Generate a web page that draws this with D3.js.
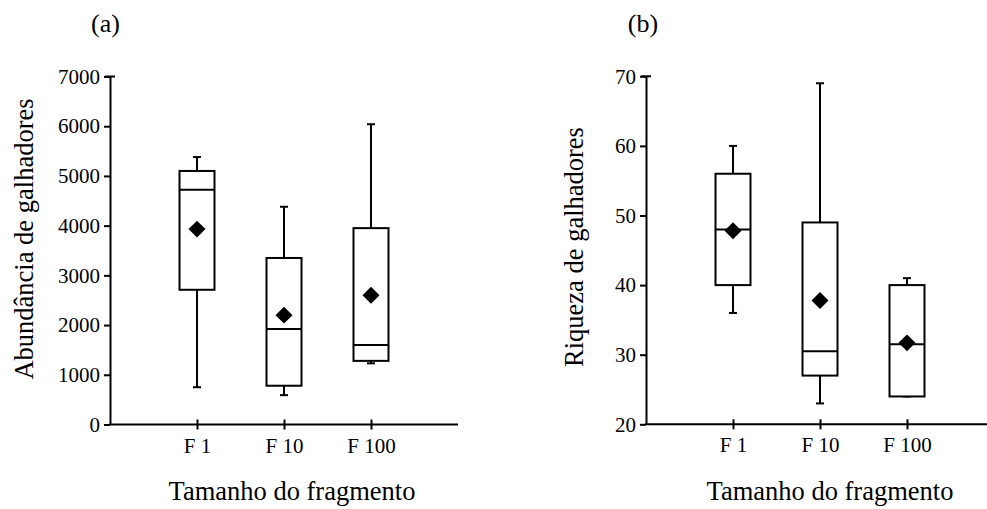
<!DOCTYPE html>
<html>
<head>
<meta charset="utf-8">
<script src="https://cdn.jsdelivr.net/npm/d3@7"></script>
<style>
  html, body { margin: 0; padding: 0; background: #fff; }
  svg { display: block; }
  text { font-family: "Liberation Serif", "Times New Roman", serif; fill: #000; }
</style>
</head>
<body>
<svg id="chart" width="987" height="509"></svg>
<script>
// ---- data ----
const categories = ["F 1", "F 10", "F 100"];

// (a) Abundância de galhadores
const abundWhiskerLow  = [750, 590, 1230];
const abundQ1          = [2710, 780, 1280];
const abundMedian      = [4720, 1920, 1600];
const abundQ3          = [5100, 3350, 3950];
const abundWhiskerHigh = [5380, 4380, 6040];
const abundMean        = [3930, 2200, 2600];
const abundTicks       = [0, 1000, 2000, 3000, 4000, 5000, 6000, 7000];

// (b) Riqueza de galhadores
const richWhiskerLow  = [36, 23, 24];
const richQ1          = [40, 27, 24];
const richMedian      = [48, 30.5, 31.5];
const richQ3          = [56, 49, 40];
const richWhiskerHigh = [60, 69, 41];
const richMean        = [47.8, 37.8, 31.7];
const richTicks       = [20, 30, 40, 50, 60, 70];

const xTitle = "Tamanho do fragmento";
const FONT = '"Liberation Serif", "Times New Roman", serif';

const svg = d3.select("#chart");

function panel(opts) {
  const g = svg.append("g");
  const x = d3.scalePoint().domain(categories).range([opts.x0, opts.x0 + 348]).padding(1);
  const y = d3.scaleLinear().domain(opts.domain).range([opts.yBottom, opts.yTop]);

  // y axis
  const ya = g.append("g").attr("transform", `translate(${opts.x0},0)`)
    .call(d3.axisLeft(y).tickValues(opts.ticks).tickFormat(d3.format("d"))
      .tickSize(6).tickSizeOuter(0).tickPadding(4))
    .attr("font-family", FONT).attr("font-size", 21);
  ya.select(".domain").attr("stroke", "#000").attr("stroke-width", 2);
  ya.selectAll(".tick line").attr("stroke", "#000").attr("stroke-width", 2);
  ya.selectAll(".tick text").attr("font-size", 21).attr("font-family", FONT);
  // top cap crossing the axis
  g.append("line")
    .attr("x1", opts.x0 - 5).attr("x2", opts.x0 + 5)
    .attr("y1", y(opts.domain[1])).attr("y2", y(opts.domain[1]))
    .attr("stroke", "#000").attr("stroke-width", 2);

  // x axis
  const xa = g.append("g").attr("transform", `translate(0,${opts.yBottom})`)
    .call(d3.axisBottom(x).tickSizeOuter(0))
    .attr("font-family", FONT).attr("font-size", 21);
  xa.select(".domain").attr("stroke", "#000").attr("stroke-width", 2)
    .attr("d", `M${opts.x0 - 1},0H${opts.xEnd}`);
  xa.selectAll(".tick line").attr("stroke", "#000").attr("stroke-width", 2)
    .attr("y1", -5).attr("y2", 5);
  xa.selectAll(".tick text").attr("font-size", 21).attr("font-family", FONT)
    .attr("y", 28).attr("dy", 0);

  const half = 17.5, cap = 4;
  const idx = d3.range(categories.length);
  const boxes = g.append("g").selectAll("g").data(idx).join("g");

  // whiskers
  boxes.append("line")
    .attr("x1", i => x(categories[i])).attr("x2", i => x(categories[i]))
    .attr("y1", i => y(opts.q3[i])).attr("y2", i => y(opts.hi[i]))
    .attr("stroke", "#000").attr("stroke-width", 2);
  boxes.append("line")
    .attr("x1", i => x(categories[i])).attr("x2", i => x(categories[i]))
    .attr("y1", i => y(opts.q1[i])).attr("y2", i => y(opts.lo[i]))
    .attr("stroke", "#000").attr("stroke-width", 2);
  boxes.append("line")
    .attr("x1", i => x(categories[i]) - cap).attr("x2", i => x(categories[i]) + cap)
    .attr("y1", i => y(opts.hi[i])).attr("y2", i => y(opts.hi[i]))
    .attr("stroke", "#000").attr("stroke-width", 2);
  boxes.append("line")
    .attr("x1", i => x(categories[i]) - cap).attr("x2", i => x(categories[i]) + cap)
    .attr("y1", i => y(opts.lo[i])).attr("y2", i => y(opts.lo[i]))
    .attr("stroke", "#000").attr("stroke-width", 2);
  // box
  boxes.append("rect")
    .attr("x", i => x(categories[i]) - half).attr("width", half * 2)
    .attr("y", i => y(opts.q3[i])).attr("height", i => y(opts.q1[i]) - y(opts.q3[i]))
    .attr("fill", "#fff").attr("stroke", "#000").attr("stroke-width", 2);
  // median
  boxes.append("line")
    .attr("x1", i => x(categories[i]) - half).attr("x2", i => x(categories[i]) + half)
    .attr("y1", i => y(opts.med[i])).attr("y2", i => y(opts.med[i]))
    .attr("stroke", "#000").attr("stroke-width", 2);
  // mean diamond
  boxes.append("path")
    .attr("d", d3.symbol(d3.symbolSquare, 144)())
    .attr("transform", i => `translate(${x(categories[i])},${y(opts.mean[i])}) rotate(45)`)
    .attr("fill", "#000");

  // titles
  g.append("text").attr("x", opts.labelX).attr("y", 32).attr("text-anchor", "middle")
    .attr("font-size", 26).text(opts.label);
  g.append("text").attr("x", opts.titleX).attr("y", 500).attr("text-anchor", "middle")
    .attr("font-size", 26.5).text(xTitle);
  g.append("text")
    .attr("transform", `translate(${opts.yTitleX},${opts.yTitleY}) rotate(-90)`)
    .attr("text-anchor", "middle").attr("font-size", 26.5).text(opts.yTitle);
}

panel({
  x0: 110, xEnd: 458, yBottom: 424.5, yTop: 76.5, domain: [0, 7000], ticks: abundTicks,
  lo: abundWhiskerLow, q1: abundQ1, med: abundMedian, q3: abundQ3, hi: abundWhiskerHigh, mean: abundMean,
  label: "(a)", labelX: 105.5, titleX: 292, yTitle: "Abundância de galhadores", yTitleX: 33, yTitleY: 239
});

panel({
  x0: 646, xEnd: 990, yBottom: 424.3, yTop: 76.3, domain: [20, 70], ticks: richTicks,
  lo: richWhiskerLow, q1: richQ1, med: richMedian, q3: richQ3, hi: richWhiskerHigh, mean: richMean,
  label: "(b)", labelX: 643, titleX: 830, yTitle: "Riqueza de galhadores", yTitleX: 583, yTitleY: 247
});
</script>
</body>
</html>
